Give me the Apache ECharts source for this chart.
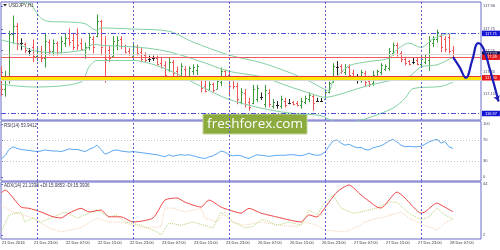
<!DOCTYPE html>
<html><head><meta charset="utf-8">
<script src="https://cdn.jsdelivr.net/npm/echarts@6/dist/echarts.min.js"></script>
<style>html,body{margin:0;padding:0;background:#fff}#c{width:500px;height:250px}</style>
</head><body><div id="c"></div>
<script>
const symbolTitle = 'USDJPY,H1';
const rsiTitle = 'RSI(14) 53.9412';
const adxTitle = 'ADX(14) 21.1338 +DI:15.0853 -DI:15.3936';
const watermark = 'freshforex.com';

const timeLabels = ['21 Dec 2016','21 Dec 23:00','22 Dec 07:00','22 Dec 15:00','22 Dec 23:00','23 Dec 07:00','23 Dec 15:00','23 Dec 23:00','26 Dec 07:00','26 Dec 15:00','26 Dec 23:00','27 Dec 07:00','27 Dec 15:00','27 Dec 23:00','28 Dec 07:00'];
const timeLabelBars = [1,9,17,25,33,41,49,57,65,73,81,89,97,105,113];
const daySeparatorBars = [9,33,57,81,105];

const opens  = [117.30,117.20,117.29,117.70,117.78,117.62,117.61,117.55,117.58,117.50,117.55,117.48,117.63,117.55,117.62,117.54,117.62,117.67,117.65,117.70,117.62,117.52,117.58,117.66,117.69,117.82,117.60,117.56,117.50,117.60,117.66,117.59,117.55,117.50,117.58,117.54,117.51,117.47,117.48,117.48,117.44,117.42,117.37,117.45,117.36,117.32,117.38,117.32,117.36,117.37,117.29,117.22,117.19,117.24,117.20,117.26,117.36,117.33,117.28,117.22,117.08,117.16,117.08,117.07,117.10,117.12,117.06,117.16,117.04,117.05,117.04,117.09,117.07,117.075,117.07,117.05,117.08,117.10,117.13,117.09,117.09,117.10,117.17,117.26,117.40,117.41,117.35,117.40,117.34,117.29,117.28,117.34,117.27,117.25,117.31,117.35,117.38,117.39,117.53,117.60,117.53,117.47,117.455,117.45,117.46,117.43,117.45,117.46,117.62,117.66,117.69,117.66,117.68,117.56];
const closes = [117.20,117.30,117.70,117.78,117.62,117.62,117.56,117.55,117.50,117.55,117.48,117.64,117.55,117.62,117.54,117.64,117.67,117.63,117.58,117.60,117.57,117.58,117.68,117.58,117.82,117.58,117.47,117.48,117.64,117.65,117.59,117.54,117.52,117.59,117.53,117.47,117.46,117.47,117.48,117.43,117.40,117.33,117.45,117.34,117.31,117.41,117.31,117.39,117.40,117.41,117.21,117.18,117.24,117.19,117.27,117.36,117.30,117.22,117.22,117.10,117.17,117.06,117.03,117.20,117.21,117.12,117.19,117.06,117.08,117.05,117.10,117.05,117.07,117.055,117.05,117.09,117.11,117.14,117.07,117.09,117.09,117.17,117.25,117.41,117.40,117.36,117.40,117.33,117.31,117.29,117.35,117.26,117.24,117.33,117.36,117.42,117.41,117.55,117.60,117.52,117.47,117.44,117.43,117.45,117.43,117.47,117.49,117.64,117.66,117.72,117.58,117.57,117.55,117.49];
const lows   = [117.14,117.13,117.25,117.62,117.56,117.56,117.53,117.51,117.45,117.46,117.45,117.40,117.51,117.51,117.51,117.53,117.59,117.60,117.56,117.56,117.56,117.48,117.56,117.53,117.68,117.51,117.26,117.45,117.50,117.56,117.57,117.53,117.51,117.48,117.51,117.45,117.45,117.45,117.46,117.42,117.39,117.30,117.36,117.31,117.30,117.31,117.30,117.31,117.33,117.33,117.17,117.17,117.19,117.17,117.20,117.23,117.28,117.13,117.20,117.06,117.06,117.03,117.00,117.06,117.08,117.10,117.03,117.03,117.02,117.02,117.02,117.03,117.06,117.05,117.04,117.02,117.06,117.08,117.00,117.08,117.08,117.10,117.16,117.26,117.33,117.34,117.33,117.31,117.30,117.25,117.26,117.22,117.22,117.23,117.30,117.33,117.37,117.37,117.51,117.50,117.45,117.42,117.42,117.43,117.42,117.40,117.43,117.37,117.59,117.63,117.54,117.54,117.53,117.48];
const highs  = [117.40,117.36,117.73,117.87,117.80,117.66,117.62,117.57,117.65,117.57,117.59,117.70,117.65,117.65,117.63,117.68,117.70,117.75,117.71,117.75,117.66,117.62,117.71,117.68,117.88,117.83,117.68,117.59,117.68,117.68,117.68,117.60,117.57,117.62,117.60,117.57,117.53,117.50,117.50,117.50,117.48,117.45,117.48,117.46,117.40,117.43,117.40,117.40,117.42,117.42,117.30,117.28,117.26,117.25,117.30,117.39,117.37,117.36,117.31,117.25,117.20,117.19,117.11,117.23,117.23,117.16,117.23,117.19,117.10,117.08,117.13,117.11,117.10,117.08,117.08,117.11,117.13,117.16,117.14,117.11,117.11,117.19,117.26,117.43,117.45,117.42,117.42,117.42,117.37,117.33,117.37,117.36,117.30,117.36,117.37,117.43,117.42,117.57,117.62,117.62,117.54,117.48,117.46,117.48,117.48,117.50,117.51,117.68,117.68,117.74,117.70,117.68,117.70,117.59];

const bbUpper  = [[5,118.00],[7,117.99],[10,117.85],[12,117.82],[17,117.815],[21,117.80],[23,117.75],[24,117.74],[25,117.76],[33,117.75],[42,117.73],[48,117.63],[57,117.51],[65,117.44],[72,117.35],[77,117.27],[80,117.21],[82,117.18],[83,117.27],[87,117.41],[92,117.45],[97,117.48],[99,117.56],[102,117.62],[105,117.58],[108,117.66],[111,117.70],[113,117.71]];
const bbMiddle = [[0,117.65],[5,117.60],[8,117.55],[14,117.53],[21,117.56],[23,117.61],[25,117.60],[35,117.58],[42,117.54],[50,117.45],[57,117.36],[65,117.31],[72,117.22],[77,117.16],[81,117.12],[84,117.14],[91,117.22],[98,117.28],[102,117.31],[105,117.40],[109,117.42],[113,117.49]];
const bbLower  = [[0,117.24],[8,117.215],[20,117.26],[22,117.40],[24,117.46],[33,117.46],[42,117.37],[50,117.22],[57,117.10],[65,117.02],[72,116.975],[80,116.95],[83,116.90],[86,116.89],[91,116.92],[98,117.02],[101,117.11],[103,117.20],[110,117.22],[113,117.26]];

const forecastPath = [[113,117.49],[114.6,117.40],[116.2,117.30],[117.8,117.46],[119.3,117.62],[120.6,117.57],[122.2,117.38],[124.4,117.08]];

const resistanceLevel = 117.71;
const supportLevel = 116.97;
const priceLevel = 117.49;
const bidLevel = 117.52;
const keyLevel = 117.30;

const rsiValues = [34,40,52,57,54,52,51,50,49,48,49,51,50,49,49,48,50,53,52,52,50,48,52,55,60,52,43,46,50,51,49,48,47,48,47,46,45,44,43,42,40,38,42,39,41,42,41,42,40,38,36,35,38,40,44,49,47,42,40,41,40,37,35,39,42,41,40,39,40,41,41,41,42,42,41,40,42,45,42,41,42,47,58,68,70,64,60,62,58,55,56,52,51,55,57,59,63,68,71,66,60,57,58,57,57,58,62,66,69,71,64,67,57,53.94];
const adxValues = [[0,36.6],[1,39],[5,25],[7,24],[10,21],[13,17],[15,16],[17,20],[20,24],[22,21],[25,22.6],[27,17],[30,17],[33,12.7],[38,16],[41,30.8],[44,32.5],[46,29],[50,25],[52,30.8],[55,25],[57,22.6],[60,20],[62,24],[65,20],[69,16.8],[72,14.4],[75,12.7],[77,18.5],[79,16.8],[80,20],[84,37.4],[87,43.2],[90,35],[94,25],[95,24.2],[99,37.4],[101,32.5],[105,20],[106,21],[109,28.3],[110,26.7],[113,21.13]];
const plusDI = [[0,4.5],[2,18.5],[5,21],[6,12.7],[8,16],[10,12.7],[16,21],[19,16],[24,22.6],[27,16.8],[29,18.5],[31,12.7],[35,10],[39,4.5],[40,2],[42,11.9],[45,10],[48,12.7],[53,7.8],[55,21],[58,12.7],[61,7.8],[63,9],[65,14.4],[66,14.4],[69,10],[72,12.7],[75,10],[77,22.6],[79,18.5],[81,29],[83,34.9],[85,24.2],[88,20],[90,21],[94,24.2],[97,29],[99,29],[102,20],[105,14.4],[107,16.8],[109,24.2],[111,18.5],[113,15.09]];
const minusDI = [[0,26.7],[3,21],[8,16],[12,7.8],[15,4.5],[20,8],[24,16],[27,12.7],[30,12.7],[33,10],[36,8],[40,8.8],[41,24.2],[43,24.2],[46,21],[50,24.2],[51,16],[54,12.7],[56,21],[58,12.7],[61,10],[65,12.7],[70,10],[74,8.8],[76,12.7],[79,10],[81,6.1],[86,4.5],[90,10],[91,12.7],[94,16],[95,16],[100,21],[102,16],[104,12.7],[106,10],[109,6.1],[111,11.9],[113,15.39]];

const mainTicks = [117.15,117.35,117.55,117.75,117.96];
const rsiTicks = [0,30,70,100];
const rsiLevels = [30,70];
const adxTicks = [2,44];

const FONT = '"Liberation Sans", Arial, sans-serif';
const C_FRAME = '#6b6bc9';
const C_VLINE = '#5b5bd3';
const C_UP = '#3c9c3c', C_DN = '#f05454', C_DOJI = '#222222';
const C_BAND = '#82d1a3';
const LBL = '#444466';
const X_END = 120;          // right edge of the price frame, in bar units
const X_FULL = 124.75;      // drawing area extends under the price scale

const chart = echarts.init(document.getElementById('c'), null, {renderer:'canvas', width:500, height:250});

const bars = opens.map((o,i)=>[i,o,closes[i],lows[i],highs[i]]);
const vLines = daySeparatorBars.map(b=>({xAxis:b}));
const vMark = {silent:true, symbol:'none', label:{show:false}, animation:false,
  lineStyle:{color:C_VLINE, type:[2,2], width:1}, data:vLines};

const panels = [
  {top:2, height:118, min:116.91, max:118.0, ticks:mainTicks, fmt:v=>v.toFixed(2)},
  {top:121, height:60, min:-7.55, max:105.66, ticks:rsiTicks, fmt:v=>String(v)},
  {top:182, height:57, min:-1.29, max:45.65, ticks:adxTicks, fmt:v=>String(v)}
];

const grids = [], xAxes = [], yAxes = [];
// data grids (0..2), wide so the forecast can run under the price scale
panels.forEach((p,i)=>{
  grids.push({left:1, top:p.top, width:499, height:p.height, show:false, containLabel:false, outerBoundsMode:'none'});
  xAxes.push({type:'value', gridIndex:i, min:0, max:X_FULL, show:false});
  yAxes.push({type:'value', gridIndex:i, min:p.min, max:p.max, show:false});
});
// frame grids (3..5) with the price scales
panels.forEach((p,i)=>{
  grids.push({left:1, top:p.top, width:480, height:p.height, show:true, borderColor:C_FRAME, borderWidth:1, containLabel:false, outerBoundsMode:'none'});
  const xa = {type:'value', gridIndex:3+i, min:0, max:X_END, splitLine:{show:false},
    axisLine:{show:false}, axisTick:{show:false}, axisLabel:{show:false}};
  if(i===2){
    xa.axisLabel = {show:true, customValues: timeLabelBars.map(b=>b-0.75),
      formatter: v => timeLabels[timeLabelBars.indexOf(Math.round(v+0.75))] || '',
      align:'left', fontSize:4, color:'#333', margin:2, fontFamily:FONT};
  }
  xAxes.push(xa);
  yAxes.push({type:'value', gridIndex:3+i, position:'right', min:p.min, max:p.max, splitLine:{show:false},
    axisLine:{show:false},
    axisTick:{show:true, customValues:p.ticks, length:2, lineStyle:{color:C_FRAME}},
    axisLabel:{show:true, customValues:p.ticks, formatter:p.fmt, fontSize:4, color:LBL, margin:2, fontFamily:FONT}});
});

function boxLabel(v, bg){
  return {show:true, position:'end', formatter: v.toFixed(2), backgroundColor:bg, color:'#fff',
    fontSize:4, fontFamily:FONT, padding:[1,3,0.5,3], distance:1};
}
function hLine(v, style, label){
  return [{coord:[0,v], lineStyle:style, label: label || {show:false}}, {coord:[X_END,v]}];
}

const option = {
  animation:false,
  backgroundColor:'#ffffff',
  textStyle:{fontFamily:FONT},
  grid:grids, xAxis:xAxes, yAxis:yAxes,
  series:[
    {type:'line', xAxisIndex:3, yAxisIndex:3, data:[]},
    {type:'line', xAxisIndex:4, yAxisIndex:4, data:[]},
    {type:'line', xAxisIndex:5, yAxisIndex:5, data:[]},
    {type:'line', name:'BB upper', xAxisIndex:0, yAxisIndex:0, data:bbUpper, symbol:'none', smooth:0.3,
      lineStyle:{color:C_BAND, width:1}, silent:true, markLine:vMark},
    {type:'line', name:'BB middle', xAxisIndex:0, yAxisIndex:0, data:bbMiddle, symbol:'none', smooth:0.3,
      lineStyle:{color:C_BAND, width:1}, silent:true},
    {type:'line', name:'BB lower', xAxisIndex:0, yAxisIndex:0, data:bbLower, symbol:'none', smooth:0.3,
      lineStyle:{color:C_BAND, width:1}, silent:true},
    {type:'line', name:'levels', xAxisIndex:0, yAxisIndex:0, data:[], clip:false,
      markLine:{silent:true, symbol:'none', animation:false, label:{show:false},
        data:[
          hLine(bidLevel, {color:'#d8d8d8', width:1, type:'solid'}, boxLabel(bidLevel,'#14145a')),
          hLine(resistanceLevel, {color:'#4d4de0', width:1, type:[5,2,1,2]}, boxLabel(resistanceLevel,'#1414d4')),
          hLine(supportLevel, {color:'#4d4de0', width:1, type:[5,2,1,2]}, boxLabel(supportLevel,'#1414d4')),
          hLine(keyLevel-0.018, {color:'#d6d6d6', width:2, type:'solid'}),
          hLine(keyLevel, {color:'#ffe600', width:3, type:'solid'}, boxLabel(keyLevel,'#e41818')),
          hLine(keyLevel+0.01, {color:'#e43a3a', width:1, type:'solid'}),
          hLine(priceLevel, {color:'#f05a5a', width:1, type:'solid'}, boxLabel(priceLevel,'#e41818'))
        ]}},
    {type:'custom', name:'USDJPY', xAxisIndex:0, yAxisIndex:0, data:bars, encode:{x:0, y:[1,2,3,4]}, clip:true,
      renderItem:function(params, api){
        const k=api.value(0), o=api.value(1), c=api.value(2), l=api.value(3), h=api.value(4);
        const pH=api.coord([k,h]), pL=api.coord([k,l]), pO=api.coord([k,o]), pC=api.coord([k,c]);
        const col = c>o ? C_UP : (c<o ? C_DN : C_DOJI);
        const x = Math.round(pH[0]) + 0.5;
        const yo = Math.round(pO[1]) + 0.5, yc = Math.round(pC[1]) + 0.5;
        return {type:'group', children:[
          {type:'line', shape:{x1:x, y1:pH[1]-0.5, x2:x, y2:pL[1]+0.5}, style:{stroke:col, lineWidth:1}},
          {type:'line', shape:{x1:x-1.5, y1:yo, x2:x, y2:yo}, style:{stroke:col, lineWidth:1}},
          {type:'line', shape:{x1:x, y1:yc, x2:x+1.5, y2:yc}, style:{stroke:col, lineWidth:1}}
        ]};
      }},
    {type:'line', name:'forecast', xAxisIndex:0, yAxisIndex:0, smooth:0.45, z:10,
      showSymbol:true, symbol:'none',
      data: forecastPath.map((p,i)=> i===forecastPath.length-1 ? {value:p, symbol:'arrow', symbolSize:[5,6], symbolRotate:200} : p),
      lineStyle:{color:'#1c1cb8', width:2.2}, itemStyle:{color:'#1c1cb8'}},
    {type:'line', name:'RSI', xAxisIndex:1, yAxisIndex:1, data:rsiValues.map((v,i)=>[i,v]), symbol:'none',
      lineStyle:{color:'#5ea8f2', width:1},
      markLine:{silent:true, symbol:'none', animation:false, label:{show:false},
        data: vLines.map(d=>Object.assign({}, d, {lineStyle:{color:C_VLINE, type:[2,2], width:1}}))
          .concat(rsiLevels.map(v=>hLine(v, {color:'#c4c4c4', type:[1,2], width:1})))}},
    {type:'line', name:'-DI', xAxisIndex:2, yAxisIndex:2, data:minusDI, symbol:'none',
      lineStyle:{color:'#f5cfae', width:1, type:[1,1]}},
    {type:'line', name:'+DI', xAxisIndex:2, yAxisIndex:2, data:plusDI, symbol:'none',
      lineStyle:{color:'#b7d576', width:1, type:[1,1]}},
    {type:'line', name:'ADX', xAxisIndex:2, yAxisIndex:2, data:adxValues, symbol:'none', smooth:0.2,
      lineStyle:{color:'#f04646', width:1}, markLine:vMark}
  ],
  graphic:[
    {type:'polygon', shape:{points:[[3,4],[7,4],[5,6.5]]}, style:{fill:'#333'}, z:50},
    {type:'text', x:8.5, y:3, style:{text:symbolTitle, fontSize:4.7, fill:'#333', fontFamily:FONT}, z:50},
    {type:'text', x:4, y:123.5, style:{text:rsiTitle, fontSize:4.5, fill:'#333355', fontFamily:FONT}, z:50},
    {type:'text', x:4, y:183.5, style:{text:adxTitle, fontSize:4.5, fill:'#333355', fontFamily:FONT}, z:50},
    {type:'group', x:203, y:114, z:60, children:[
      {type:'rect', shape:{x:0, y:0, width:104, height:20}, style:{fill:'#8cab3e', stroke:'#c3d49a', lineWidth:1}},
      {type:'text', x:52, y:10, style:{text:watermark, fontSize:13.5, fill:'#ffffff', fontFamily:'"Open Sans", sans-serif', align:'center', verticalAlign:'middle'}}
    ]}
  ]
};
chart.setOption(option);
</script>
</body></html>
